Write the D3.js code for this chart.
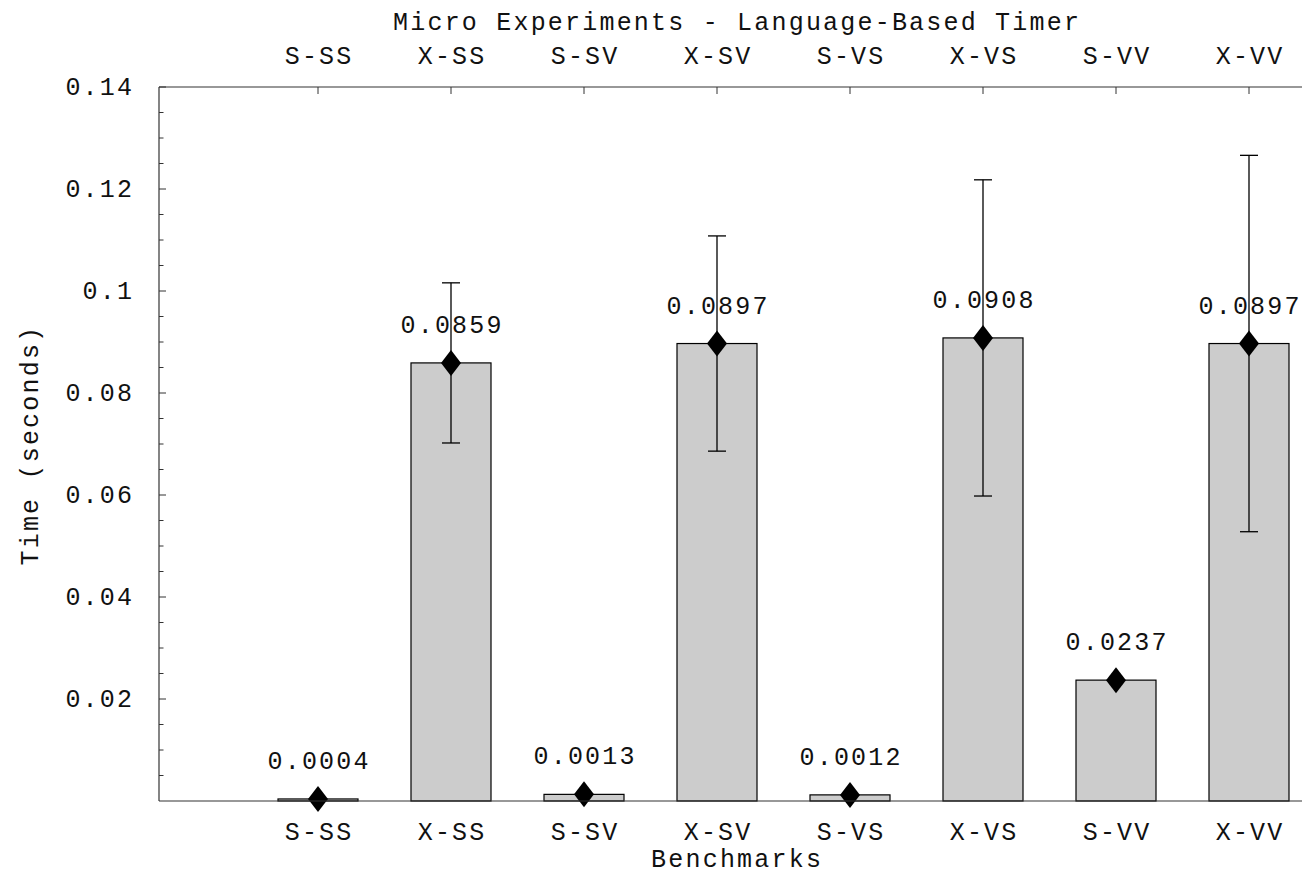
<!DOCTYPE html>
<html>
<head>
<meta charset="utf-8">
<script src="https://cdn.jsdelivr.net/npm/d3@7"></script>
<style>
  html, body { margin: 0; padding: 0; background: #fff; }
  svg text { font-family: "Liberation Mono", "Courier New", monospace; fill: #111; letter-spacing: 2.2px; }
</style>
</head>
<body>
<svg id="chart" width="1302" height="876"></svg>
<script>
const title = "Micro Experiments - Language-Based Timer";
const categories = ["S-SS", "X-SS", "S-SV", "X-SV", "S-VS", "X-VS", "S-VV", "X-VV"];
const means = [0.0004, 0.0859, 0.0013, 0.0897, 0.0012, 0.0908, 0.0237, 0.0897];
const errLow = [0.0004, 0.0702, 0.0013, 0.0686, 0.0012, 0.0598, 0.0237, 0.0528];
const errHigh = [0.0004, 0.1016, 0.0013, 0.1108, 0.0012, 0.1218, 0.0237, 0.1266];
const labels = ["0.0004", "0.0859", "0.0013", "0.0897", "0.0012", "0.0908", "0.0237", "0.0897"];
const yTicks = [0.02, 0.04, 0.06, 0.08, 0.1, 0.12, 0.14];
const yTickLabels = ["0.02", "0.04", "0.06", "0.08", "0.1", "0.12", "0.14"];
const yMinorTicks = d3.range(1, 29).map(i => i * 0.005);

const W = 1302, H = 876;
const plot = { left: 159, top: 87, bottom: 801, right: 1302 };
const FS = 25;
const LS = 2.2; // letter spacing, compensate centring

const svg = d3.select("#chart");

const y = d3.scaleLinear().domain([0, 0.14]).range([plot.bottom, plot.top]);
const x = d3.scalePoint().domain(categories).range([318, 1249]);
const barW = 80;

// bars
svg.append("g").selectAll("rect").data(categories).join("rect")
  .attr("x", d => x(d) - barW / 2)
  .attr("y", (d, i) => y(means[i]))
  .attr("width", barW)
  .attr("height", (d, i) => y(0) - y(means[i]))
  .attr("fill", "#cccccc")
  .attr("stroke", "#000")
  .attr("stroke-width", 1.2);

// value labels
svg.append("g").selectAll("text").data(categories).join("text")
  .attr("x", d => x(d) + LS / 2)
  .attr("y", (d, i) => y(means[i]) - 30)
  .attr("text-anchor", "middle")
  .attr("font-size", FS)
  .text((d, i) => labels[i]);

// error bars
const eg = svg.append("g").attr("stroke", "#000").attr("stroke-width", 1.3);
categories.forEach((c, i) => {
  if (errHigh[i] - errLow[i] < 0.001) return;
  const cx = x(c);
  eg.append("line").attr("x1", cx).attr("x2", cx).attr("y1", y(errLow[i])).attr("y2", y(errHigh[i]));
  eg.append("line").attr("x1", cx - 9).attr("x2", cx + 9).attr("y1", y(errLow[i])).attr("y2", y(errLow[i]));
  eg.append("line").attr("x1", cx - 9).attr("x2", cx + 9).attr("y1", y(errHigh[i])).attr("y2", y(errHigh[i]));
});

// diamonds
svg.append("g").selectAll("path").data(categories).join("path")
  .attr("d", (d, i) => {
    const cx = x(d), cy = y(means[i]);
    return `M${cx},${cy - 13}L${cx + 10},${cy}L${cx},${cy + 13}L${cx - 10},${cy}Z`;
  })
  .attr("fill", "#000");

// axes frame lines
const axisColor = "#333";
svg.append("line").attr("x1", plot.left).attr("x2", plot.right).attr("y1", plot.top).attr("y2", plot.top)
  .attr("stroke", axisColor).attr("stroke-width", 1.2);
svg.append("line").attr("x1", plot.left).attr("x2", plot.right).attr("y1", plot.bottom).attr("y2", plot.bottom)
  .attr("stroke", axisColor).attr("stroke-width", 1.2);
svg.append("line").attr("x1", plot.left).attr("x2", plot.left).attr("y1", plot.top).attr("y2", plot.bottom)
  .attr("stroke", axisColor).attr("stroke-width", 1.2);

// left ticks
svg.append("g").selectAll("line").data(yMinorTicks).join("line")
  .attr("x1", plot.left).attr("x2", d => plot.left + (Math.abs(d / 0.02 - Math.round(d / 0.02)) < 1e-6 ? 7 : 4.5))
  .attr("y1", d => y(d)).attr("y2", d => y(d))
  .attr("stroke", axisColor).attr("stroke-width", 1);

svg.append("g").selectAll("text").data(yTicks).join("text")
  .attr("x", 132 + LS)
  .attr("y", d => y(d) + 8)
  .attr("text-anchor", "end")
  .attr("font-size", FS)
  .text((d, i) => yTickLabels[i]);

// top ticks
svg.append("g").selectAll("line").data(categories).join("line")
  .attr("x1", d => x(d)).attr("x2", d => x(d))
  .attr("y1", plot.top).attr("y2", plot.top + 7)
  .attr("stroke", axisColor).attr("stroke-width", 1);

// top category labels
svg.append("g").selectAll("text").data(categories).join("text")
  .attr("x", d => x(d) + LS / 2).attr("y", 64)
  .attr("text-anchor", "middle").attr("font-size", FS)
  .text(d => d);

// bottom category labels
svg.append("g").selectAll("text").data(categories).join("text")
  .attr("x", d => x(d) + LS / 2).attr("y", 840)
  .attr("text-anchor", "middle").attr("font-size", FS)
  .text(d => d);

// title
svg.append("text").attr("x", 736 + LS / 2).attr("y", 30).attr("text-anchor", "middle")
  .attr("font-size", FS).text(title);

// x label
svg.append("text").attr("x", 736 + LS / 2).attr("y", 867).attr("text-anchor", "middle")
  .attr("font-size", FS).text("Benchmarks");

// y label
svg.append("text").attr("transform", `translate(38,${(plot.top + plot.bottom) / 2 + LS / 2}) rotate(-90)`)
  .attr("text-anchor", "middle").attr("font-size", FS).text("Time (seconds)");
</script>
</body>
</html>
